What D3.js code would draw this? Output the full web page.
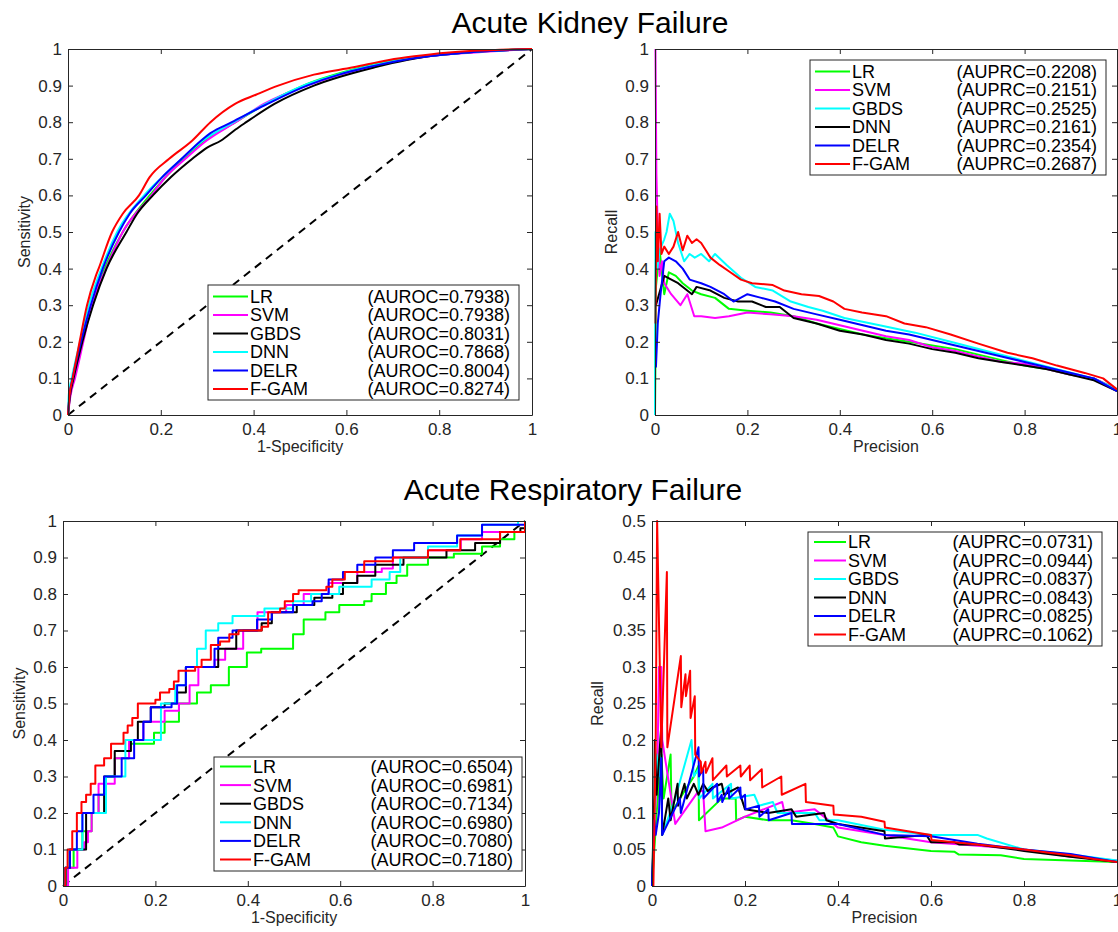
<!DOCTYPE html>
<html><head><meta charset="utf-8">
<script src="https://cdn.jsdelivr.net/npm/d3@7"></script>
<style>
body{margin:0;background:#fff;}
text{font-family:"Liberation Sans",Arial,Helvetica,sans-serif;}
</style>
</head><body>
<svg id="c" width="1118" height="932"></svg>
<script>
// ---------------- DATA ----------------
const models = ["LR","SVM","GBDS","DNN","DELR","F-GAM"];
const rocColors = ["#00ff00","#ff00ff","#000000","#00ffff","#0000ff","#ff0000"];
const prColors  = ["#00ff00","#ff00ff","#00ffff","#000000","#0000ff","#ff0000"];

const akfAuroc = ["0.7938","0.7938","0.8031","0.7868","0.8004","0.8274"];
const akfAuprc = ["0.2208","0.2151","0.2525","0.2161","0.2354","0.2687"];
const arfAuroc = ["0.6504","0.6981","0.7134","0.6980","0.7080","0.7180"];
const arfAuprc = ["0.0731","0.0944","0.0837","0.0843","0.0825","0.1062"];

const xTicks = ["0","0.2","0.4","0.6","0.8","1"];
const rocYTicks = ["0","0.1","0.2","0.3","0.4","0.5","0.6","0.7","0.8","0.9","1"];
const arfPrYTicks = ["0","0.05","0.1","0.15","0.2","0.25","0.3","0.35","0.4","0.45","0.5"];

// Acute Kidney Failure – ROC  [1-specificity, sensitivity]
const akfRocLR   = [[0,0],[0.004,0.05],[0.012,0.1],[0.030,0.2],[0.051,0.3],[0.079,0.4],[0.118,0.5],[0.176,0.6],[0.249,0.7],[0.295,0.75],[0.361,0.8],[0.426,0.85],[0.507,0.9],[0.634,0.95],[0.761,0.98],[1,1]];
const akfRocSVM  = [[0,0],[0.005,0.05],[0.015,0.1],[0.033,0.2],[0.051,0.3],[0.082,0.4],[0.118,0.5],[0.180,0.6],[0.210,0.65],[0.253,0.7],[0.299,0.75],[0.361,0.8],[0.422,0.85],[0.515,0.9],[0.646,0.95],[0.777,0.98],[0.869,0.99],[1,1]];
const akfRocGBDS = [[0,0],[0.004,0.05],[0.012,0.1],[0.031,0.2],[0.054,0.3],[0.083,0.4],[0.126,0.5],[0.149,0.55],[0.183,0.6],[0.222,0.65],[0.268,0.7],[0.299,0.73],[0.330,0.75],[0.361,0.78],[0.384,0.8],[0.445,0.85],[0.530,0.9],[0.661,0.95],[0.730,0.97],[0.777,0.98],[0.854,0.99],[1,1]];
const akfRocDNN  = [[0,0],[0.002,0.06],[0.008,0.1],[0.026,0.2],[0.045,0.3],[0.072,0.4],[0.106,0.5],[0.164,0.6],[0.203,0.65],[0.245,0.7],[0.291,0.75],[0.357,0.8],[0.426,0.85],[0.507,0.9],[0.581,0.93],[0.638,0.95],[0.715,0.97],[0.770,0.98],[0.850,0.99],[1,1]];
const akfRocDELR = [[0,0],[0.003,0.05],[0.010,0.1],[0.028,0.2],[0.049,0.3],[0.075,0.4],[0.110,0.5],[0.133,0.55],[0.168,0.6],[0.203,0.65],[0.245,0.7],[0.287,0.75],[0.307,0.77],[0.353,0.8],[0.430,0.85],[0.515,0.9],[0.584,0.93],[0.646,0.95],[0.723,0.97],[0.777,0.98],[0.854,0.99],[1,1]];
const akfRocFGAM = [[0,0],[0.003,0.05],[0.010,0.1],[0.025,0.2],[0.041,0.3],[0.060,0.38],[0.066,0.4],[0.095,0.5],[0.118,0.55],[0.153,0.6],[0.176,0.65],[0.218,0.7],[0.268,0.75],[0.307,0.8],[0.360,0.85],[0.405,0.875],[0.453,0.9],[0.530,0.93],[0.615,0.95],[0.692,0.97],[0.746,0.98],[0.815,0.99],[1,1]];

// Acute Kidney Failure – PR  [precision axis, recall axis]
const akfPrLR   = [[0,0],[0.002,0.35],[0.01,0.45],[0.02,0.33],[0.03,0.39],[0.045,0.38],[0.06,0.36],[0.08,0.34],[0.1,0.33],[0.13,0.32],[0.16,0.29],[0.2,0.285],[0.25,0.28],[0.3,0.27],[0.35,0.25],[0.4,0.235],[0.45,0.22],[0.5,0.21],[0.55,0.2],[0.6,0.19],[0.65,0.18],[0.7,0.165],[0.75,0.15],[0.8,0.135],[0.85,0.125],[0.9,0.11],[0.95,0.1],[1,0.07]];
const akfPrSVM  = [[0.001,1.0],[0.003,0.66],[0.006,0.5],[0.01,0.38],[0.015,0.42],[0.02,0.36],[0.035,0.33],[0.055,0.3],[0.07,0.33],[0.085,0.27],[0.1,0.27],[0.13,0.265],[0.16,0.27],[0.2,0.28],[0.25,0.275],[0.3,0.27],[0.35,0.26],[0.4,0.245],[0.45,0.23],[0.5,0.215],[0.55,0.205],[0.6,0.185],[0.65,0.175],[0.7,0.16],[0.75,0.145],[0.8,0.14],[0.85,0.125],[0.9,0.11],[0.95,0.1],[1,0.07]];
const akfPrGBDS = [[0,0],[0.001,0.5],[0.005,0.4],[0.01,0.45],[0.02,0.48],[0.025,0.5],[0.032,0.55],[0.04,0.53],[0.05,0.47],[0.063,0.42],[0.075,0.44],[0.086,0.43],[0.1,0.44],[0.117,0.42],[0.13,0.44],[0.155,0.41],[0.186,0.375],[0.217,0.35],[0.255,0.34],[0.294,0.31],[0.332,0.295],[0.363,0.285],[0.41,0.265],[0.486,0.245],[0.563,0.225],[0.64,0.2],[0.717,0.175],[0.794,0.15],[0.87,0.125],[0.948,0.1],[1,0.07]];
const akfPrDNN  = [[0.002,0.3],[0.02,0.38],[0.05,0.36],[0.08,0.33],[0.09,0.35],[0.12,0.34],[0.15,0.32],[0.18,0.31],[0.21,0.31],[0.24,0.295],[0.27,0.295],[0.3,0.265],[0.35,0.25],[0.4,0.23],[0.45,0.22],[0.5,0.205],[0.55,0.195],[0.6,0.18],[0.65,0.17],[0.7,0.155],[0.75,0.145],[0.8,0.135],[0.85,0.125],[0.9,0.11],[0.95,0.095],[1,0.065]];
const akfPrDELR = [[0.002,0.13],[0.006,0.25],[0.012,0.33],[0.02,0.42],[0.03,0.43],[0.045,0.42],[0.06,0.4],[0.075,0.37],[0.1,0.36],[0.12,0.35],[0.15,0.33],[0.17,0.31],[0.2,0.33],[0.23,0.32],[0.26,0.31],[0.3,0.29],[0.35,0.275],[0.4,0.26],[0.45,0.245],[0.5,0.23],[0.55,0.22],[0.6,0.205],[0.65,0.19],[0.7,0.175],[0.75,0.16],[0.8,0.145],[0.85,0.13],[0.9,0.115],[0.95,0.1],[1,0.065]];
const akfPrFGAM = [[0.001,0.25],[0.003,0.57],[0.006,0.42],[0.01,0.55],[0.014,0.44],[0.02,0.46],[0.03,0.44],[0.04,0.46],[0.05,0.5],[0.06,0.45],[0.07,0.49],[0.08,0.47],[0.09,0.48],[0.1,0.47],[0.11,0.45],[0.12,0.43],[0.14,0.41],[0.163,0.39],[0.186,0.37],[0.21,0.36],[0.255,0.355],[0.28,0.34],[0.317,0.33],[0.355,0.325],[0.386,0.31],[0.41,0.29],[0.448,0.28],[0.5,0.27],[0.54,0.25],[0.586,0.24],[0.64,0.22],[0.7,0.195],[0.763,0.17],[0.817,0.155],[0.87,0.135],[0.93,0.115],[0.97,0.1],[1,0.07]];

// Acute Respiratory Failure – ROC (step curves)
const arfRocLR   = [[0,0],[0.008,0.05],[0.023,0.1],[0.042,0.15],[0.062,0.2],[0.077,0.25],[0.093,0.3],[0.112,0.35],[0.143,0.39],[0.197,0.42],[0.22,0.45],[0.251,0.5],[0.29,0.53],[0.32,0.55],[0.359,0.6],[0.398,0.64],[0.429,0.65],[0.498,0.69],[0.521,0.73],[0.568,0.75],[0.598,0.77],[0.652,0.78],[0.668,0.8],[0.699,0.83],[0.722,0.85],[0.745,0.88],[0.79,0.9],[0.846,0.91],[0.907,0.93],[0.946,0.95],[0.977,0.97],[1,1]];
const arfRocSVM  = [[0,0],[0.011,0.05],[0.031,0.1],[0.046,0.12],[0.054,0.15],[0.062,0.2],[0.077,0.28],[0.112,0.35],[0.143,0.4],[0.174,0.45],[0.22,0.48],[0.251,0.5],[0.274,0.55],[0.293,0.6],[0.328,0.62],[0.351,0.65],[0.39,0.7],[0.421,0.75],[0.483,0.77],[0.521,0.8],[0.575,0.83],[0.637,0.86],[0.69,0.87],[0.714,0.9],[0.79,0.92],[0.861,0.95],[0.907,0.97],[1,1]];
const arfRocGBDS = [[0,0],[0.005,0.05],[0.015,0.1],[0.05,0.2],[0.089,0.3],[0.112,0.37],[0.147,0.4],[0.162,0.45],[0.19,0.49],[0.22,0.5],[0.247,0.53],[0.266,0.6],[0.336,0.65],[0.375,0.7],[0.43,0.72],[0.452,0.75],[0.506,0.77],[0.544,0.79],[0.583,0.8],[0.606,0.83],[0.637,0.85],[0.676,0.88],[0.737,0.9],[0.83,0.92],[0.892,0.94],[0.946,0.97],[0.99,0.98],[1,1]];
const arfRocDNN  = [[0,0],[0.004,0.05],[0.012,0.1],[0.042,0.2],[0.093,0.3],[0.135,0.4],[0.212,0.5],[0.243,0.55],[0.266,0.6],[0.29,0.65],[0.309,0.7],[0.336,0.72],[0.367,0.74],[0.436,0.76],[0.498,0.78],[0.537,0.8],[0.598,0.82],[0.668,0.84],[0.707,0.86],[0.73,0.9],[0.79,0.93],[0.853,0.96],[0.907,0.99],[0.985,1]];
const arfRocDELR = [[0,0],[0.005,0.05],[0.015,0.1],[0.03,0.15],[0.042,0.2],[0.066,0.25],[0.089,0.3],[0.127,0.35],[0.154,0.4],[0.174,0.45],[0.19,0.49],[0.235,0.5],[0.247,0.55],[0.266,0.6],[0.328,0.65],[0.336,0.68],[0.367,0.7],[0.42,0.73],[0.452,0.75],[0.498,0.77],[0.54,0.78],[0.56,0.8],[0.575,0.84],[0.606,0.86],[0.637,0.88],[0.676,0.9],[0.714,0.92],[0.76,0.94],[0.853,0.96],[0.907,0.99],[1,1]];
const arfRocFGAM = [[0,0],[0.005,0.05],[0.01,0.1],[0.02,0.15],[0.03,0.2],[0.04,0.23],[0.05,0.25],[0.06,0.28],[0.07,0.33],[0.089,0.35],[0.104,0.39],[0.131,0.42],[0.14,0.44],[0.15,0.46],[0.162,0.5],[0.2,0.51],[0.21,0.53],[0.23,0.54],[0.24,0.56],[0.25,0.59],[0.286,0.6],[0.3,0.62],[0.32,0.66],[0.34,0.67],[0.36,0.69],[0.38,0.7],[0.43,0.71],[0.444,0.75],[0.47,0.76],[0.48,0.78],[0.498,0.8],[0.51,0.81],[0.57,0.82],[0.583,0.84],[0.61,0.86],[0.652,0.89],[0.714,0.9],[0.79,0.92],[0.86,0.95],[0.946,0.97],[1,1]];

// Acute Respiratory Failure – PR
const arfPrLR   = [[0,0],[0.01,0.1],[0.02,0.18],[0.025,0.12],[0.04,0.18],[0.042,0.1],[0.06,0.12],[0.09,0.15],[0.1,0.165],[0.101,0.09],[0.15,0.12],[0.18,0.12],[0.181,0.09],[0.2,0.095],[0.25,0.09],[0.3,0.09],[0.35,0.085],[0.39,0.08],[0.4,0.068],[0.45,0.06],[0.5,0.055],[0.6,0.048],[0.65,0.047],[0.66,0.043],[0.75,0.042],[0.8,0.037],[0.9,0.035],[1,0.033]];
const arfPrSVM  = [[0,0],[0.012,0.18],[0.015,0.3],[0.02,0.3],[0.022,0.2],[0.05,0.085],[0.1,0.13],[0.11,0.13],[0.115,0.075],[0.15,0.08],[0.2,0.095],[0.28,0.115],[0.285,0.1],[0.35,0.105],[0.4,0.08],[0.5,0.07],[0.6,0.06],[0.7,0.055],[0.8,0.05],[0.9,0.04],[1,0.035]];
const arfPrGBDS = [[0,0],[0.01,0.18],[0.015,0.15],[0.02,0.18],[0.022,0.07],[0.05,0.12],[0.085,0.2],[0.09,0.15],[0.1,0.16],[0.102,0.12],[0.13,0.14],[0.131,0.12],[0.17,0.14],[0.171,0.12],[0.22,0.125],[0.23,0.11],[0.26,0.115],[0.27,0.1],[0.35,0.1],[0.36,0.09],[0.4,0.09],[0.5,0.077],[0.6,0.07],[0.7,0.07],[0.72,0.065],[0.8,0.05],[0.9,0.043],[1,0.035]];
const arfPrDNN  = [[0,0],[0.005,0.125],[0.006,0.2],[0.01,0.125],[0.02,0.22],[0.022,0.07],[0.035,0.12],[0.04,0.09],[0.055,0.14],[0.056,0.11],[0.07,0.14],[0.075,0.12],[0.09,0.14],[0.1,0.125],[0.11,0.14],[0.12,0.13],[0.13,0.135],[0.15,0.14],[0.155,0.125],[0.185,0.135],[0.2,0.105],[0.25,0.1],[0.3,0.105],[0.31,0.095],[0.37,0.1],[0.375,0.09],[0.4,0.085],[0.5,0.075],[0.501,0.065],[0.59,0.07],[0.6,0.06],[0.65,0.06],[0.66,0.057],[0.7,0.057],[0.8,0.048],[0.9,0.04],[1,0.033]];
const arfPrDELR = [[0,0],[0.005,0.09],[0.008,0.07],[0.015,0.1],[0.02,0.175],[0.022,0.07],[0.06,0.12],[0.062,0.1],[0.1,0.19],[0.101,0.15],[0.11,0.16],[0.111,0.12],[0.14,0.14],[0.141,0.115],[0.15,0.125],[0.151,0.115],[0.165,0.135],[0.166,0.12],[0.19,0.135],[0.191,0.12],[0.2,0.125],[0.201,0.105],[0.23,0.11],[0.231,0.095],[0.25,0.105],[0.251,0.09],[0.3,0.1],[0.301,0.085],[0.4,0.085],[0.5,0.07],[0.6,0.068],[0.7,0.058],[0.8,0.05],[0.9,0.044],[1,0.033]];
const arfPrFGAM = [[0.003,0],[0.008,0.2],[0.011,0.5],[0.02,0.19],[0.032,0.43],[0.033,0.19],[0.062,0.315],[0.063,0.245],[0.072,0.29],[0.073,0.26],[0.082,0.295],[0.083,0.23],[0.092,0.26],[0.093,0.18],[0.105,0.17],[0.106,0.155],[0.115,0.17],[0.116,0.155],[0.13,0.175],[0.131,0.145],[0.16,0.165],[0.161,0.15],[0.19,0.165],[0.191,0.15],[0.21,0.165],[0.211,0.145],[0.236,0.16],[0.237,0.135],[0.278,0.15],[0.279,0.125],[0.33,0.14],[0.331,0.115],[0.39,0.11],[0.391,0.098],[0.45,0.095],[0.5,0.088],[0.501,0.08],[0.55,0.075],[0.6,0.07],[0.601,0.063],[0.7,0.057],[0.8,0.05],[0.85,0.046],[0.9,0.042],[0.95,0.037],[1,0.033]];

// ---------------- DRAW ----------------
const svg = d3.select("#c");
const AX = "#262626";
const defs = svg.append("defs");

function panel(cfg) {
  const g = svg.append("g");
  const x = d3.scaleLinear().domain([0,1]).range([cfg.x0, cfg.x1]);
  const y = d3.scaleLinear().domain([0, cfg.ymax]).range([cfg.y1, cfg.y0]);
  const clipId = "clip" + cfg.id;
  defs.append("clipPath").attr("id", clipId).append("rect")
    .attr("x", cfg.x0 - 2).attr("y", cfg.y0 - 2)
    .attr("width", cfg.x1 - cfg.x0 + 4).attr("height", cfg.y1 - cfg.y0 + 4);

  const plot = g.append("g").attr("clip-path", `url(#${clipId})`);
  if (cfg.diag) {
    plot.append("line")
      .attr("x1", x(0)).attr("y1", y(0)).attr("x2", x(1)).attr("y2", y(1))
      .attr("stroke", "#000").attr("stroke-width", 2).attr("stroke-dasharray", "8,6");
  }
  const line = d3.line().x(d => x(d[0])).y(d => y(d[1])).curve(cfg.curve);
  cfg.series.forEach((s, i) => {
    plot.append("path").datum(s).attr("d", line)
      .attr("fill", "none").attr("stroke", cfg.colors[i])
      .attr("stroke-width", 2).attr("stroke-linejoin", "round");
  });

  const xv = xTicks.map(Number), yv = cfg.yTicks.map(Number);
  const fx = d => xTicks[xv.indexOf(d)], fy = d => cfg.yTicks[yv.indexOf(d)];
  const styleAxis = sel => {
    sel.selectAll("path,line").attr("stroke", AX).attr("stroke-width", 1);
    sel.selectAll("text").attr("fill", AX).attr("font-size", 17)
      .attr("font-family", '"Liberation Sans",Arial,sans-serif');
  };
  g.append("g").attr("transform", `translate(0,${cfg.y1})`)
    .call(d3.axisBottom(x).tickValues(xv).tickFormat(fx).tickSizeInner(-5).tickSizeOuter(0).tickPadding(8))
    .call(styleAxis);
  g.append("g").attr("transform", `translate(0,${cfg.y0})`)
    .call(d3.axisTop(x).tickValues(xv).tickFormat("").tickSizeInner(-5).tickSizeOuter(0))
    .call(styleAxis);
  g.append("g").attr("transform", `translate(${cfg.x0},0)`)
    .call(d3.axisLeft(y).tickValues(yv).tickFormat(fy).tickSizeInner(-5).tickSizeOuter(0).tickPadding(6))
    .call(styleAxis);
  g.append("g").attr("transform", `translate(${cfg.x1},0)`)
    .call(d3.axisRight(y).tickValues(yv).tickFormat("").tickSizeInner(-5).tickSizeOuter(0))
    .call(styleAxis);

  // axis labels
  g.append("text").attr("x", (cfg.x0 + cfg.x1) / 2).attr("y", cfg.y1 + 37)
    .attr("text-anchor", "middle").attr("font-size", 16).attr("fill", AX).text(cfg.xLabel);
  g.append("text")
    .attr("transform", `translate(${cfg.x0 - cfg.yLabOff},${(cfg.y0 + cfg.y1) / 2}) rotate(-90)`)
    .attr("text-anchor", "middle").attr("font-size", 16).attr("fill", AX).text(cfg.yLabel);

  // legend
  const L = cfg.legend;
  const lg = g.append("g");
  lg.append("rect").attr("x", L.x).attr("y", L.y).attr("width", L.w).attr("height", L.h)
    .attr("fill", "#fff").attr("stroke", AX).attr("stroke-width", 1);
  models.forEach((m, i) => {
    const cy = L.y + L.first + i * L.step;
    lg.append("line").attr("x1", L.x + L.l1).attr("x2", L.x + L.l2).attr("y1", cy).attr("y2", cy)
      .attr("stroke", cfg.colors[i]).attr("stroke-width", 2);
    lg.append("text").attr("x", L.x + L.l2 + 2).attr("y", cy).attr("dy", "0.36em")
      .attr("font-size", 18).attr("fill", "#000").text(m);
    lg.append("text").attr("x", L.x + L.w - 9).attr("y", cy).attr("dy", "0.36em")
      .attr("text-anchor", "end").attr("font-size", 18).attr("fill", "#000")
      .text(`(${cfg.metric}=${cfg.values[i]})`);
  });
}

panel({id: 1, x0: 68, x1: 532, y0: 49, y1: 415, ymax: 1, yTicks: rocYTicks, diag: true,
  curve: d3.curveMonotoneX, colors: rocColors,
  series: [akfRocLR, akfRocSVM, akfRocGBDS, akfRocDNN, akfRocDELR, akfRocFGAM],
  xLabel: "1-Specificity", yLabel: "Sensitivity", yLabOff: 38,
  metric: "AUROC", values: akfAuroc,
  legend: {x: 208, y: 285, w: 311, h: 115, first: 11.5, step: 18.5, l1: 5, l2: 40}});

panel({id: 2, x0: 655, x1: 1117, y0: 49, y1: 415, ymax: 1, yTicks: rocYTicks, diag: false,
  curve: d3.curveLinear, colors: prColors,
  series: [akfPrLR, akfPrSVM, akfPrGBDS, akfPrDNN, akfPrDELR, akfPrFGAM],
  xLabel: "Precision", yLabel: "Recall", yLabOff: 38,
  metric: "AUPRC", values: akfAuprc,
  legend: {x: 810, y: 60, w: 296, h: 115, first: 11.5, step: 18.5, l1: 5, l2: 40}});

panel({id: 3, x0: 63, x1: 525, y0: 521, y1: 886, ymax: 1, yTicks: rocYTicks, diag: true,
  curve: d3.curveStepAfter, colors: rocColors,
  series: [arfRocLR, arfRocSVM, arfRocGBDS, arfRocDNN, arfRocDELR, arfRocFGAM],
  xLabel: "1-Specificity", yLabel: "Sensitivity", yLabOff: 38,
  metric: "AUROC", values: arfAuroc,
  legend: {x: 214, y: 757, w: 308, h: 114, first: 9.5, step: 18.6, l1: 6, l2: 37}});

panel({id: 4, x0: 652, x1: 1117, y0: 521, y1: 886, ymax: 0.5, yTicks: arfPrYTicks, diag: false,
  curve: d3.curveLinear, colors: prColors,
  series: [arfPrLR, arfPrSVM, arfPrGBDS, arfPrDNN, arfPrDELR, arfPrFGAM],
  xLabel: "Precision", yLabel: "Recall", yLabOff: 49,
  metric: "AUPRC", values: arfAuprc,
  legend: {x: 808, y: 532, w: 294, h: 114, first: 10, step: 18.5, l1: 6, l2: 38}});

// titles
svg.append("text").attr("x", 590).attr("y", 33).attr("text-anchor", "middle")
  .attr("font-size", 30).attr("fill", "#000").text("Acute Kidney Failure");
svg.append("text").attr("x", 573).attr("y", 500).attr("text-anchor", "middle")
  .attr("font-size", 30).attr("fill", "#000").text("Acute Respiratory Failure");
</script>
</body></html>
